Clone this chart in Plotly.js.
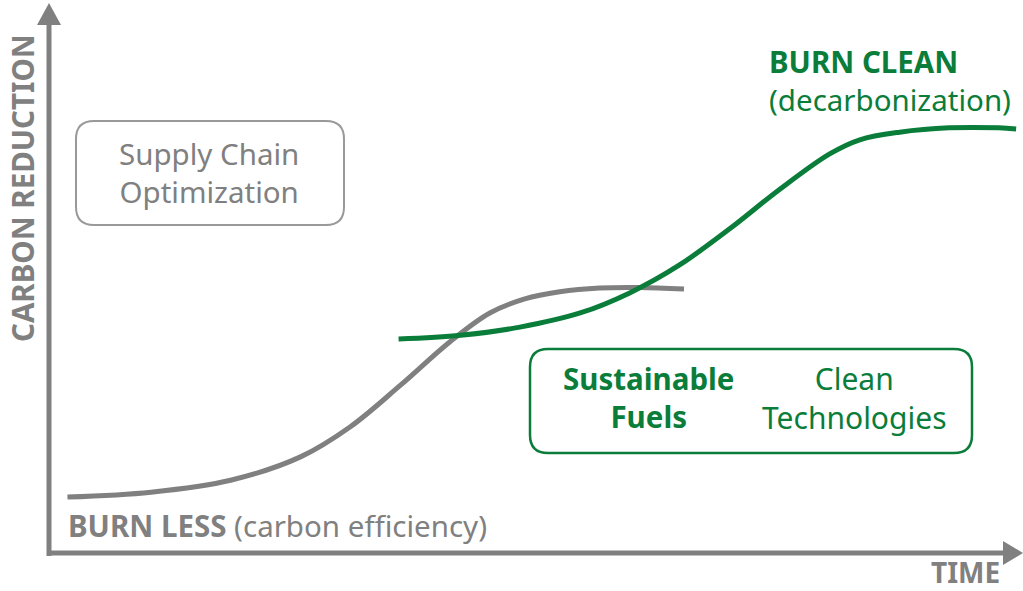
<!DOCTYPE html>
<html>
<head>
<meta charset="utf-8">
<script src="https://cdn.plot.ly/plotly-3.0.1.min.js"></script>
<style>html,body{margin:0;padding:0;background:#fff;}#chart{width:1023px;height:591px;}</style>
</head>
<body>
<div id="chart"></div>
<script>
// Conceptual curves: time (0-100) vs carbon reduction (0-100)
const burnLessTime = [1.9, 10.5, 18.7, 25.9, 31.0, 36.2, 41.3, 45.4, 49.0, 52.6, 56.7, 60.8, 65.4];
const burnLessReduction = [10.3, 11.2, 13.4, 17.7, 23.2, 30.9, 38.9, 44.2, 46.8, 48.1, 48.8, 48.9, 48.6];
const burnCleanTime = [36.0, 42.4, 48.5, 54.7, 59.8, 64.9, 70.1, 75.2, 80.4, 83.5, 87.6, 92.7, 97.8, 99.6];
const burnCleanReduction = [39.4, 40.1, 41.6, 44.2, 47.9, 53.0, 59.7, 66.9, 73.5, 76.1, 77.5, 78.3, 78.3, 78.1];

const GRAY = '#808080';
const GREEN = '#0b7d3a';
const FONT = 'Noto Sans, Open Sans, sans-serif';
const W = 1023, H = 591;
const px = v => v / W;
const py = v => 1 - v / H;

function roundRect(x0, y0, x1, y1, r) {
  const rx = r / W, ry = r / H;
  const X0 = px(x0), X1 = px(x1), Y0 = py(y0), Y1 = py(y1);
  return `M${X0 + rx},${Y0} L${X1 - rx},${Y0} Q${X1},${Y0} ${X1},${Y0 - ry} ` +
         `L${X1},${Y1 + ry} Q${X1},${Y1} ${X1 - rx},${Y1} L${X0 + rx},${Y1} ` +
         `Q${X0},${Y1} ${X0},${Y1 + ry} L${X0},${Y0 - ry} Q${X0},${Y0} ${X0 + rx},${Y0} Z`;
}

const traces = [
  {x: burnLessTime, y: burnLessReduction, mode: 'lines', line: {color: GRAY, width: 5, shape: 'spline', smoothing: 1.0}, hoverinfo: 'skip'},
  {x: burnCleanTime, y: burnCleanReduction, mode: 'lines', line: {color: GREEN, width: 5, shape: 'spline', smoothing: 1.0}, hoverinfo: 'skip'}
];

const shapes = [
  // y axis
  {type: 'line', xref: 'paper', yref: 'paper', x0: px(49), y0: py(556), x1: px(49), y1: py(22), line: {color: GRAY, width: 5}},
  {type: 'path', xref: 'paper', yref: 'paper', path: `M${px(49)},${py(3)} L${px(37)},${py(25)} L${px(61)},${py(25)} Z`, fillcolor: GRAY, line: {width: 0}},
  // x axis
  {type: 'line', xref: 'paper', yref: 'paper', x0: px(47), y0: py(553), x1: px(1006), y1: py(553), line: {color: GRAY, width: 5}},
  {type: 'path', xref: 'paper', yref: 'paper', path: `M${px(1023)},${py(553)} L${px(1003)},${py(541)} L${px(1003)},${py(565)} Z`, fillcolor: GRAY, line: {width: 0}},
  // boxes
  {type: 'path', xref: 'paper', yref: 'paper', path: roundRect(76, 121, 344, 225, 18), line: {color: '#999999', width: 2}},
  {type: 'path', xref: 'paper', yref: 'paper', path: roundRect(530, 349, 972, 453, 18), line: {color: GREEN, width: 2.5}}
];

const ann = (text, x, y, size, color, opts = {}) => Object.assign({
  text, xref: 'paper', yref: 'paper', x: px(x), y: py(y), showarrow: false,
  font: {family: FONT, size, color}, xanchor: 'center', yanchor: 'middle'
}, opts);

const annotations = [
  ann('<b>CARBON REDUCTION</b>', 22, 188, 29.5, GRAY, {textangle: -90}),
  ann('<b>TIME</b>', 965, 572, 28, GRAY),
  ann('<b>BURN LESS</b> (carbon efficiency)', 66, 525, 29.5, GRAY, {xanchor: 'left'}),
  ann('<b>BURN CLEAN</b><br>(decarbonization)', 767, 80, 29.5, GREEN, {xanchor: 'left', align: 'left'}),
  ann('Supply Chain<br>Optimization', 209, 172, 29.5, GRAY),
  ann('<b>Sustainable</b><br><b>Fuels</b>', 648, 398, 29.5, GREEN),
  ann('Clean<br>Technologies', 854, 398, 30, GREEN)
];

const layout = {
  width: W, height: H,
  margin: {l: 0, r: 0, t: 0, b: 0},
  paper_bgcolor: '#ffffff', plot_bgcolor: '#ffffff',
  showlegend: false,
  xaxis: {range: [-49 / 9.71, (W - 49) / 9.71], visible: false, fixedrange: true},
  yaxis: {range: [(553 - H) / 5.43, 553 / 5.43], visible: false, fixedrange: true},
  shapes, annotations
};

Plotly.newPlot('chart', traces, layout, {displayModeBar: false, staticPlot: true});
</script>
</body>
</html>
